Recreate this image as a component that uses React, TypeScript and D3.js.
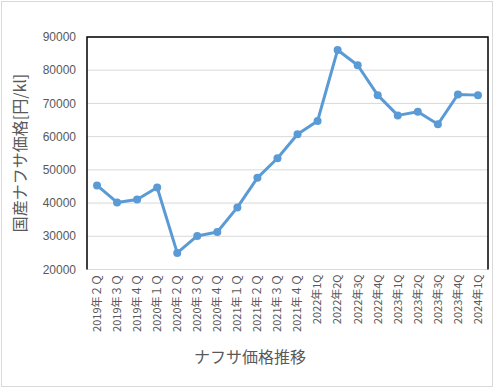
import React from "react";
import * as d3 from "d3";

const categories = [
  "2019年２Ｑ", "2019年３Ｑ", "2019年４Ｑ", "2020年１Ｑ", "2020年２Ｑ",
  "2020年３Ｑ", "2020年４Ｑ", "2021年１Ｑ", "2021年２Ｑ", "2021年３Ｑ",
  "2021年４Ｑ", "2022年1Q", "2022年2Q", "2022年3Q", "2022年4Q",
  "2023年1Q", "2023年2Q", "2023年3Q", "2023年4Q", "2024年1Q",
];
const prices = [
  45300, 40200, 41100, 44700, 25000, 30100, 31300, 38700, 47600, 53500,
  60700, 64700, 86100, 81500, 72500, 66400, 67500, 63700, 72700, 72500,
];
const yTicks = [20000, 30000, 40000, 50000, 60000, 70000, 80000, 90000];

const W = 495;
const H = 389;
const plot = { left: 87, top: 37, right: 488, bottom: 269.5 };
const grey = "#595959";
const jp = "'Noto Sans CJK JP', 'Noto Sans', sans-serif";

const App = () => {
  const x = d3
    .scaleBand<string>()
    .domain(categories)
    .range([plot.left, plot.right]);
  const y = d3
    .scaleLinear()
    .domain([20000, 90000])
    .range([plot.bottom, plot.top]);

  const line = d3
    .line<number>()
    .x((_, i) => (x(categories[i]) || 0) + x.bandwidth() / 2)
    .y((d) => y(d));

  return (
    <svg
      width={W}
      height={H}
      style={{ position: "absolute", left: 0, top: 0, display: "block" }}
    >
      <rect x={0} y={0} width={W} height={H} fill="#fff" />
      <rect x={1.5} y={1.5} width={491} height={385} fill="none" stroke="#d9d9d9" />

      {/* gridlines */}
      {yTicks.map((t) => (
        <line
          key={t}
          x1={plot.left}
          x2={plot.right}
          y1={y(t)}
          y2={y(t)}
          stroke="#d9d9d9"
          strokeWidth={1}
        />
      ))}

      {/* plot border */}
      <path
        d={`M${plot.left},${plot.bottom}V${plot.top}H${plot.right}V${plot.bottom}`}
        fill="none"
        stroke="#000"
        strokeWidth={1.5}
      />

      {/* y tick labels */}
      {yTicks.map((t) => (
        <text
          key={t}
          x={76}
          y={y(t)}
          dy="0.35em"
          textAnchor="end"
          fontSize={12}
          fill={grey}
          fontFamily="'Liberation Sans', Arial, sans-serif"
        >
          {t}
        </text>
      ))}

      {/* x tick labels */}
      {categories.map((c) => {
        const cx = (x(c) || 0) + x.bandwidth() / 2;
        return (
          <text
            key={c}
            transform={`translate(${cx},${plot.bottom + 5}) rotate(-90)`}
            dy="0.35em"
            textAnchor="end"
            fontSize={11}
            fill={grey}
            fontFamily={jp}
          >
            {c}
          </text>
        );
      })}

      {/* series */}
      <path
        d={line(prices) || ""}
        fill="none"
        stroke="#5b9bd5"
        strokeWidth={3}
        strokeLinejoin="round"
      />
      {prices.map((p, i) => (
        <circle
          key={i}
          cx={(x(categories[i]) || 0) + x.bandwidth() / 2}
          cy={y(p)}
          r={4}
          fill="#5b9bd5"
        />
      ))}

      {/* axis titles */}
      <text
        x={250}
        y={357}
        dy="0.35em"
        textAnchor="middle"
        fontSize={16}
        fill={grey}
        fontFamily={jp}
      >
        ナフサ価格推移
      </text>
      <text
        transform={`translate(20,153) rotate(-90)`}
        dy="0.35em"
        textAnchor="middle"
        fontSize={16}
        fill={grey}
        fontFamily={jp}
      >
        国産ナフサ価格[円/kl]
      </text>
    </svg>
  );
};

export default App;
